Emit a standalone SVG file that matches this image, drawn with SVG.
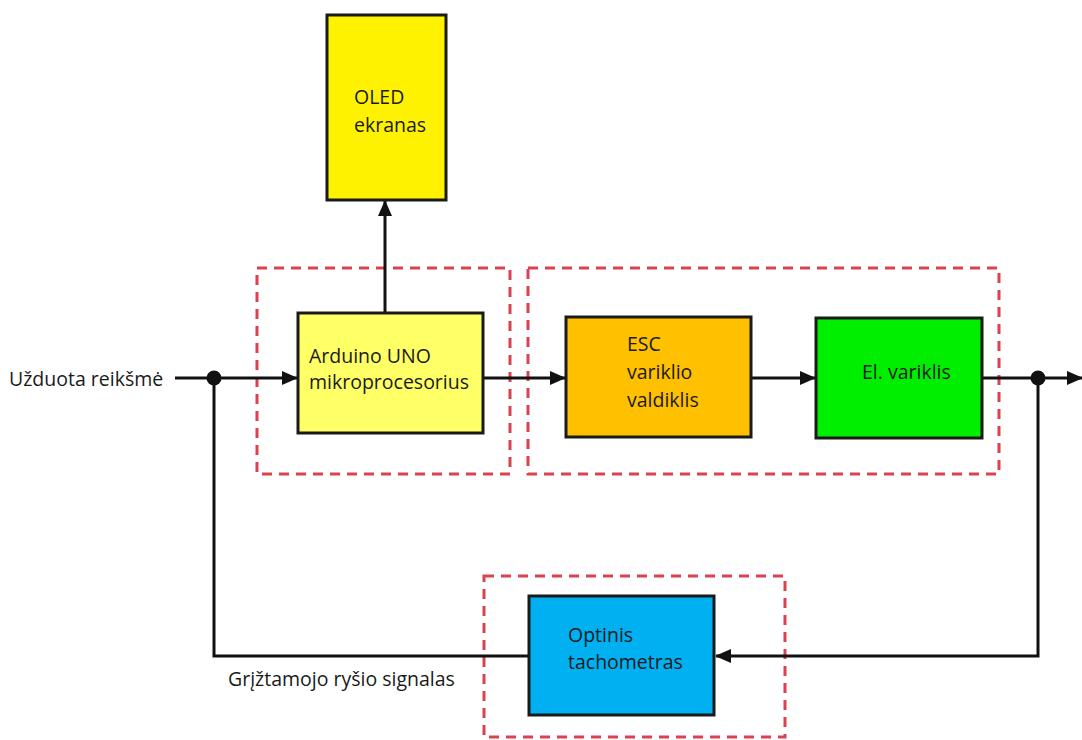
<svg xmlns="http://www.w3.org/2000/svg" width="1082" height="740" viewBox="0 0 1082 740">
<style>
.box{stroke:#1a1a1a;stroke-width:3}
.grp{fill:none;stroke:#d9434f;stroke-width:3;stroke-dasharray:10,7}
.ln{fill:none;stroke:#111;stroke-width:3}
text{font-family:"Open Sans","Liberation Sans",sans-serif;font-size:19.5px;fill:#1a1a1a}
</style>
<defs>
<marker id="ah" markerWidth="16" markerHeight="14" refX="15" refY="7" orient="auto" markerUnits="userSpaceOnUse">
<path d="M0,0 L16,7 L0,14 Z" fill="#111"/>
</marker>
</defs>
<rect width="1082" height="740" fill="#fff"/>
<g id="groups">
<rect class="grp" x="257" y="268" width="253" height="206"/>
<rect class="grp" x="528" y="268" width="471" height="206"/>
<rect class="grp" x="484" y="576" width="301" height="161"/>
</g>
<g id="connectors">
<line class="ln" x1="175" y1="378" x2="297" y2="378" marker-end="url(#ah)"/>
<line class="ln" x1="385" y1="313" x2="385" y2="201" marker-end="url(#ah)"/>
<line class="ln" x1="483" y1="378" x2="565" y2="378" marker-end="url(#ah)"/>
<line class="ln" x1="751" y1="378" x2="815" y2="378" marker-end="url(#ah)"/>
<line class="ln" x1="982" y1="378" x2="1082" y2="378" marker-end="url(#ah)"/>
<polyline class="ln" points="1038,378 1038,656 716,656" marker-end="url(#ah)"/>
<polyline class="ln" points="529,656 214,656 214,378"/>
<circle cx="214" cy="378" r="7.5" fill="#111"/>
<circle cx="1038" cy="378" r="7.5" fill="#111"/>
</g>
<g id="oled">
<rect class="box" x="327" y="15" width="119" height="185" fill="#fff200"/>
<text x="354" y="104">OLED</text>
<text x="354" y="132">ekranas</text>
</g>
<g id="arduino">
<rect class="box" x="298" y="313" width="185" height="120" fill="#ffff66"/>
<text x="309" y="363">Arduino UNO</text>
<text x="309" y="389">mikroprocesorius</text>
</g>
<g id="esc">
<rect class="box" x="566" y="317" width="185" height="120" fill="#ffc000"/>
<text x="627" y="351">ESC</text>
<text x="627" y="379">variklio</text>
<text x="627" y="407">valdiklis</text>
</g>
<g id="motor">
<rect class="box" x="816" y="318" width="166" height="120" fill="#00ee00"/>
<text x="862" y="379">El. variklis</text>
</g>
<g id="tacho">
<rect class="box" x="529" y="596" width="185" height="119" fill="#00b0f0"/>
<text x="568" y="642">Optinis</text>
<text x="568" y="669">tachometras</text>
</g>
<g id="labels">
<text x="9" y="386">Užduota reikšmė</text>
<text x="228" y="686">Grįžtamojo ryšio signalas</text>
</g>
</svg>
